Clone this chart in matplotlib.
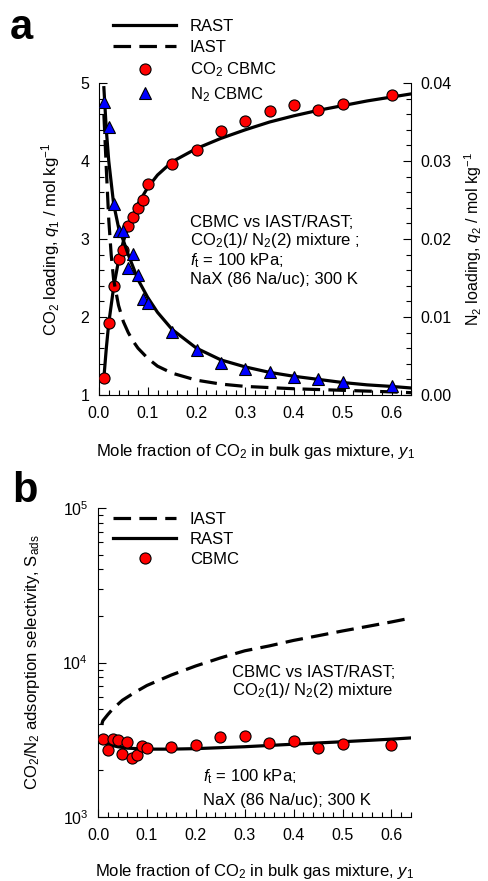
"""
Two-panel figure: CBMC vs IAST/RAST for CO2/N2 mixture in NaX.
(a) component loadings, (b) adsorption selectivity.
"""
import matplotlib
matplotlib.use("Agg")  # non-interactive backend
import matplotlib.pyplot as plt
from matplotlib.lines import Line2D
from matplotlib.ticker import MultipleLocator, LogLocator, NullFormatter

plt.rcParams["font.family"] = ["Liberation Sans", "DejaVu Sans"]
plt.rcParams["mathtext.fontset"] = "custom"
plt.rcParams["mathtext.rm"] = "Liberation Sans"
plt.rcParams["mathtext.it"] = "Liberation Sans:italic"
plt.rcParams["mathtext.bf"] = "Liberation Sans:bold"

# ---------------------------------------------------------------------------
# Data
# ---------------------------------------------------------------------------
y1_cbmc = [0.01, 0.02, 0.03, 0.04, 0.05, 0.06, 0.07, 0.08, 0.09, 0.10,
           0.15, 0.20, 0.25, 0.30, 0.35, 0.40, 0.45, 0.50, 0.60]
q1_cbmc = [1.22, 1.92, 2.40, 2.74, 2.86, 3.17, 3.28, 3.40, 3.50, 3.70,
           3.96, 4.14, 4.38, 4.51, 4.64, 4.72, 4.65, 4.73, 4.85]
q2_cbmc = [0.0376, 0.0344, 0.0245, 0.0210, 0.0210, 0.0163, 0.0181, 0.0154, 0.0123, 0.0118,
           0.0081, 0.0058, 0.0041, 0.0033, 0.0029, 0.0023, 0.0021, 0.0017, 0.0012]
s_cbmc = [3206, 2722, 3206, 3160, 2570, 3070, 2417, 2530, 2890, 2810,
          2850, 2940, 3300, 3360, 3020, 3110, 2810, 2980, 2940]

# RAST loadings
y1_rast = [0.01, 0.015, 0.02, 0.03, 0.04, 0.05, 0.06, 0.08, 0.10, 0.12, 0.15,
           0.20, 0.25, 0.30, 0.35, 0.40, 0.45, 0.50, 0.55, 0.60, 0.64]
q1_rast = [1.22, 1.60, 1.92, 2.38, 2.72, 2.97, 3.16, 3.45, 3.66, 3.82, 3.99,
           4.16, 4.29, 4.40, 4.50, 4.58, 4.65, 4.71, 4.77, 4.82, 4.86]
q2_rast = [0.0394, 0.0340, 0.0300, 0.0245, 0.0215, 0.0198, 0.0180, 0.0148, 0.0125, 0.0106, 0.0084,
           0.0060, 0.0045, 0.0036, 0.0029, 0.0024, 0.0020, 0.0016, 0.0013, 0.0011, 0.0009]

# IAST N2 loading
y1_iast = [0.01, 0.015, 0.02, 0.025, 0.03, 0.04, 0.05, 0.06, 0.07, 0.08,
           0.10, 0.12, 0.15, 0.20, 0.25, 0.30, 0.40, 0.50, 0.60, 0.64]
q2_iast = [0.0360, 0.0290, 0.0225, 0.0180, 0.0148, 0.0115, 0.0094, 0.0080, 0.0069, 0.0060,
           0.0047, 0.0037, 0.0028, 0.0019, 0.0014, 0.0011, 0.0008, 0.0006, 0.0004, 0.0003]

# selectivities
y1_s_iast = [0.0075, 0.01, 0.02, 0.03, 0.05, 0.075, 0.10, 0.15, 0.20,
             0.25, 0.30, 0.35, 0.40, 0.45, 0.50, 0.55, 0.60, 0.64]
s_iast = [3950, 4200, 4600, 5000, 5700, 6400, 7100, 8300, 9500,
          10700, 11900, 12800, 13900, 14900, 16000, 17100, 18300, 19400]
y1_s_rast = [0.01, 0.02, 0.04, 0.06, 0.10, 0.15, 0.20, 0.30, 0.40, 0.50, 0.60, 0.64]
s_rast = [3050, 2950, 2850, 2790, 2750, 2750, 2770, 2850, 2960, 3070, 3190, 3250]

LW = 2.3
DASH = (5.5, 2.6)
RED = "#ff0000"
BLUE = "#0000ff"
TICK_FS = 11.5
LABEL_FS = 12
NOTE_FS = 12
LEG_FS = 12


def _style_ticks(ax, which_side):
    ax.tick_params(axis="both", which="major", direction="in", length=6, width=0.8,
                   labelsize=TICK_FS)
    ax.tick_params(axis="both", which="minor", direction="in", length=3.5, width=0.8)
    ax.tick_params(axis="x", pad=8)
    ax.tick_params(axis="y", pad=7)
    for s in ax.spines.values():
        s.set_linewidth(0.8)
    ax.spines["top"].set_visible(False)
    if which_side == "left":
        ax.spines["right"].set_visible(False)


fig = plt.figure(figsize=(4.88, 8.81), dpi=100)

# ---------------------------------------------------------------------------
# Panel a
# ---------------------------------------------------------------------------
ax = fig.add_axes([99 / 488, 1 - 395 / 881, 312 / 488, 312 / 881])
ax2 = ax.twinx()

ax.plot(y1_rast, q1_rast, color="black", lw=LW, zorder=2)
ax.plot(y1_cbmc, q1_cbmc, "o", ms=8, mfc=RED, mec="black", mew=0.8, zorder=3)

ax2.plot(y1_iast, q2_iast, color="black", lw=LW, dashes=DASH, zorder=1)
ax2.plot(y1_rast, q2_rast, color="black", lw=LW, zorder=2)
ax2.plot(y1_cbmc, q2_cbmc, "^", ms=8, mfc=BLUE, mec="black", mew=0.8, zorder=3)

ax.set_xlim(0, 0.64)
ax.set_ylim(1, 5)
ax2.set_ylim(0, 0.04)
ax.xaxis.set_major_locator(MultipleLocator(0.1))
ax.xaxis.set_minor_locator(MultipleLocator(0.02))
ax.xaxis.set_major_formatter(matplotlib.ticker.FormatStrFormatter("%.1f"))
ax.yaxis.set_major_locator(MultipleLocator(1))
ax.yaxis.set_minor_locator(MultipleLocator(0.2))
ax2.yaxis.set_major_locator(MultipleLocator(0.01))
ax2.yaxis.set_minor_locator(MultipleLocator(0.002))
ax2.yaxis.set_major_formatter(matplotlib.ticker.FormatStrFormatter("%.2f"))
_style_ticks(ax, "left")
_style_ticks(ax2, "right")
ax2.spines["left"].set_visible(False)
ax2.spines["bottom"].set_visible(False)

ax.set_xlabel(r"Mole fraction of CO$_2$ in bulk gas mixture, $y_1$", fontsize=LABEL_FS)
ax.xaxis.set_label_coords(0.5, -0.15)
ax.set_ylabel(r"CO$_2$ loading, $q_1$ / mol kg$^{-1}$", fontsize=LABEL_FS)
ax.yaxis.set_label_coords(-0.119, 0.5)
ax2.set_ylabel(r"N$_2$ loading, $q_2$ / mol kg$^{-1}$", fontsize=11.5)
ax2.yaxis.set_label_coords(1.163, 0.5)

notes_a = [
    (0.554, "CBMC vs IAST/RAST;"),
    (0.494, r"CO$_2$(1)/ N$_2$(2) mixture ;"),
    (0.430, r"$f_{\rm t}$ = 100 kPa;"),
    (0.369, "NaX (86 Na/uc); 300 K"),
]
for yy, txt in notes_a:
    ax.text(0.292, yy, txt, transform=ax.transAxes, fontsize=NOTE_FS, va="center", ha="left")

handles_a = [
    Line2D([], [], color="black", lw=LW),
    Line2D([], [], color="black", lw=LW, dashes=DASH),
    Line2D([], [], ls="none", marker="o", ms=8, mfc=RED, mec="black", mew=0.8),
    Line2D([], [], ls="none", marker="^", ms=8, mfc=BLUE, mec="black", mew=0.8),
]
fig.legend(handles_a, ["RAST", "IAST", r"CO$_2$ CBMC", r"N$_2$ CBMC"],
           loc="upper left", bbox_to_anchor=(113 / 488, 1 - 19 / 881),
           frameon=False, fontsize=LEG_FS, handlelength=3.8, handletextpad=0.8,
           labelspacing=0.35, borderpad=0, borderaxespad=0)

fig.text(10 / 488, 1 - 39 / 881, "a", fontsize=30, fontweight="bold", ha="left", va="baseline")

# ---------------------------------------------------------------------------
# Panel b
# ---------------------------------------------------------------------------
bx = fig.add_axes([98 / 488, 1 - 817 / 881, 313 / 488, 309 / 881])
bx.plot(y1_s_iast, s_iast, color="black", lw=LW, dashes=DASH, zorder=1)
bx.plot(y1_s_rast, s_rast, color="black", lw=LW, zorder=2)
bx.plot(y1_cbmc, s_cbmc, "o", ms=8, mfc=RED, mec="black", mew=0.8, zorder=3)

bx.set_yscale("log")
bx.set_xlim(0, 0.64)
bx.set_ylim(1e3, 1e5)
bx.xaxis.set_major_locator(MultipleLocator(0.1))
bx.xaxis.set_minor_locator(MultipleLocator(0.02))
bx.xaxis.set_major_formatter(matplotlib.ticker.FormatStrFormatter("%.1f"))
bx.yaxis.set_major_locator(LogLocator(base=10))
bx.yaxis.set_minor_locator(LogLocator(base=10, subs=range(2, 10)))
bx.yaxis.set_minor_formatter(NullFormatter())
_style_ticks(bx, "left")

bx.set_xlabel(r"Mole fraction of CO$_2$ in bulk gas mixture, $y_1$", fontsize=LABEL_FS)
bx.xaxis.set_label_coords(0.5, -0.145)
bx.set_ylabel(r"CO$_2$/N$_2$ adsorption selectivity, S$_{\rm ads}$", fontsize=LABEL_FS)
bx.yaxis.set_label_coords(-0.179, 0.5)

notes_b = [
    (0.428, 0.469, "CBMC vs IAST/RAST;"),
    (0.428, 0.408, r"CO$_2$(1)/ N$_2$(2) mixture"),
    (0.335, 0.129, r"$f_{\rm t}$ = 100 kPa;"),
    (0.335, 0.055, "NaX (86 Na/uc); 300 K"),
]
for xx, yy, txt in notes_b:
    bx.text(xx, yy, txt, transform=bx.transAxes, fontsize=NOTE_FS, va="center", ha="left")

handles_b = [
    Line2D([], [], color="black", lw=LW, dashes=DASH),
    Line2D([], [], color="black", lw=LW),
    Line2D([], [], ls="none", marker="o", ms=8, mfc=RED, mec="black", mew=0.8),
]
fig.legend(handles_b, ["IAST", "RAST", "CBMC"],
           loc="upper left", bbox_to_anchor=(113 / 488, 1 - 512 / 881),
           frameon=False, fontsize=LEG_FS, handlelength=3.8, handletextpad=0.8,
           labelspacing=0.3, borderpad=0, borderaxespad=0)

fig.text(12 / 488, 1 - 502 / 881, "b", fontsize=30, fontweight="bold", ha="left", va="baseline")

fig.savefig("out.png", dpi=100)
plt.close(fig)
